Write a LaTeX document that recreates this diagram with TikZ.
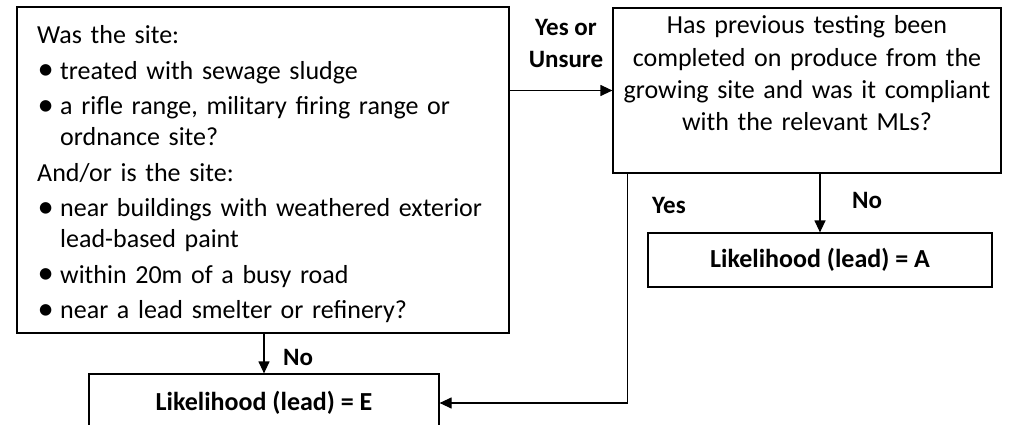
\documentclass[tikz,border=0pt]{standalone}
\usepackage{fontspec}
\setmainfont{Carlito}
\usetikzlibrary{arrows.meta}
\newcommand{\bitem}[1]{\par\noindent\hangindent=23pt\hangafter=1\makebox[23pt][l]{\hspace{0.5pt}\raisebox{-0.3pt}{\scalebox{1.25}{\textbullet}}}#1}
\newcommand{\brk}{\hfil\break}
\begin{document}
\begin{tikzpicture}[x=1pt,y=-1pt,
  box/.style={draw, line width=1.2pt, inner sep=0pt},
  arr/.style={line width=1.2pt, -{Triangle[length=12pt,width=11pt]}},
  edgelbl/.style={font=\bfseries\fontsize{25}{32}\selectfont, inner sep=0pt},
  boxlbl/.style={font=\bfseries\fontsize{26}{30}\selectfont},
  body/.style={font=\fontsize{26}{31}\selectfont, inner sep=0pt}]
\clip (0,0) rectangle (1018,425);
% boxes
\node[box, minimum width=492pt, minimum height=326pt] (q1) at (263,170) {};
\node[box, minimum width=388pt, minimum height=165pt] (q2) at (807,90.5) {};
\node[box, minimum width=344pt, minimum height=54pt, boxlbl] (a) at (820,260) {Likelihood (lead) = A};
\node[box, minimum width=350pt, minimum height=58pt, boxlbl] (e) at (264,403) {Likelihood (lead) = E};
% box texts
\node[body, anchor=north west, text width=470pt] (t1) at (37,25.5) {%
\raggedright\setlength{\parskip}{4.5pt}\noindent Was the site:
\bitem{treated with sewage sludge}
\bitem{a rifle range, military firing range or\brk ordnance site?}
\par\noindent And/or is the site:
\bitem{near buildings with weathered exterior\brk lead-based paint}
\bitem{within 20m of a busy road}
\bitem{near a lead smelter or refinery?}\par};
\node[body, anchor=north, text width=386pt, align=center, font=\fontsize{26}{32.3}\selectfont] (t2) at (807,15.5) {Has previous testing been\\completed on produce from the\\growing site and was it compliant\\with the relevant MLs?};
% connectors
\draw[arr] (q1.east |- q2.west) -- (q2.west);
\draw[arr] (q2.south -| a.north) -- (a.north);
\draw[arr] ([xshift=15pt]q2.south west) |- (e.east);
\draw[arr] (q1.south -| e.north) -- (e.north);
% labels
\node[edgelbl, align=center, anchor=north] (l1) at (566,19) {Yes or\\Unsure};
\node[edgelbl, anchor=base west] (l2) at (652,213) {Yes};
\node[edgelbl, anchor=base west] (l3) at (852,208) {No};
\node[edgelbl, anchor=base west] (l4) at (283,365) {No};
\end{tikzpicture}
\end{document}
